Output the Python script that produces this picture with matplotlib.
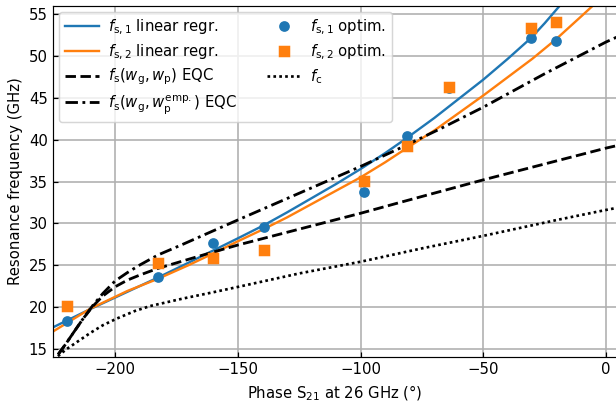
import matplotlib
matplotlib.use("Agg")
import matplotlib.pyplot as plt

# measured points (optimisation results)
phase_pts = [-219.5, -182.6, -160.1, -139.2, -98.5, -81.3, -64.0, -30.5, -20.5]
fs1_opt = [18.35, 23.6, 27.6, 29.6, 33.75, 40.4, 46.2, 52.2, 51.85]
fs2_opt = [20.1, 25.2, 25.9, 26.8, 35.05, 39.2, 46.3, 53.4, 54.1]

# regression curves
x_fs1 = [-225.3, -210, -195, -182.6, -170, -160, -150, -139.2, -130, -120, -110, -100, -90, -81.2, -70, -60, -50, -40, -30.5, -25, -18.7]
y_fs1 = [17.55, 19.75, 21.8, 23.5, 25.3, 26.75, 28.2, 29.8, 31.3, 33.0, 34.7, 36.5, 38.4, 40.2, 42.6, 44.9, 47.2, 49.7, 52.2, 53.95, 56.1]

x_fs2 = [-225.3, -210, -195, -182.6, -170, -160, -150, -139.2, -130, -120, -110, -100, -90, -81.2, -70, -60, -50, -40, -30, -20.5, -10, -5.2]
y_fs2 = [17.05, 19.8, 21.9, 23.35, 25.0, 26.4, 27.85, 29.35, 30.7, 32.3, 33.9, 35.5, 37.3, 39.0, 41.1, 43.2, 45.3, 47.5, 49.7, 52.0, 54.8, 56.1]

x_eqc = [-223.2, -220, -217, -213, -209, -205, -200, -195, -190, -182.6, -172.3, -165.4, -150, -125, -100, -83.9, -67.6, -50, -25, 0, 4.5]
y_eqc = [14.3, 15.6, 16.9, 18.6, 20.1, 21.3, 22.4, 23.2, 23.8, 24.6, 25.5, 26.1, 27.4, 29.3, 31.2, 32.5, 33.8, 35.2, 37.1, 39.0, 39.3]

x_emp = [-223.2, -220, -217, -213, -209, -205, -200, -195, -190, -182.6, -172.3, -165.4, -150, -125, -100, -83.9, -67.6, -50, -25, 0, 4.5]
y_emp = [14.3, 15.6, 16.9, 18.6, 20.2, 21.6, 23.1, 24.1, 25.0, 26.2, 27.5, 28.4, 30.4, 33.6, 36.8, 39.0, 41.3, 43.9, 47.9, 51.7, 52.3]

x_fc = [-223.3, -220, -215, -210, -205, -199.3, -192, -185.7, -172.3, -160, -149, -125, -100, -75, -50, -20, 0, 4.5]
y_fc = [14.1, 14.9, 15.9, 16.9, 17.8, 18.6, 19.5, 20.1, 21.0, 21.75, 22.45, 24.0, 25.4, 27.0, 28.5, 30.4, 31.6, 31.85]

xticks = [-200, -150, -100, -50, 0]
yticks = [15, 20, 25, 30, 35, 40, 45, 50, 55]

DPI = 107
fig = plt.figure(figsize=(616 / DPI, 403 / DPI), dpi=DPI)
ax = fig.add_axes([53/616, 46/403, 564.2/616, 351/403])

blue = '#1f77b4'
orange = '#ff7f0e'

h1, = ax.plot(x_fs1, y_fs1, color=blue, lw=1.6, label=r'$f_{\rm s,1}$ linear regr.')
h2, = ax.plot(x_fs2, y_fs2, color=orange, lw=1.6, label=r'$f_{\rm s,2}$ linear regr.')
h3, = ax.plot(x_eqc, y_eqc, color='black', lw=1.9, ls=(0, (3.7, 1.6)), label=r'$f_{\rm s}(w_{\rm g}, w_{\rm p})$ EQC')
h4, = ax.plot(x_emp, y_emp, color='black', lw=1.9, ls=(0, (4.4, 1.6, 1, 1.6)), label=r'$f_{\rm s}(w_{\rm g}, w_{\rm p}^{\rm emp.})$ EQC')
h5, = ax.plot(phase_pts, fs1_opt, 'o', color=blue, ms=6.2, label=r'$f_{\rm s,1}$ optim.')
h6, = ax.plot(phase_pts, fs2_opt, 's', color=orange, ms=6.2, label=r'$f_{\rm s,2}$ optim.')
h7, = ax.plot(x_fc, y_fc, color='black', lw=1.8, ls=(0, (1, 1.2)), label=r'$f_{\rm c}$')
h5.set_zorder(3)
h6.set_zorder(3.1)

ax.set_xlim(-225.3, 4.5)
ax.set_ylim(14, 56)
ax.set_xticks(xticks)
ax.set_yticks(yticks)
ax.tick_params(direction='in', labelsize=10)
ax.grid(True, color='#b0b0b0', lw=1.1)
ax.set_axisbelow(True)
ax.set_xlabel(r'Phase S$_{21}$ at 26 GHz (°)', fontsize=10)
ax.set_ylabel('Resonance frequency (GHz)', fontsize=10)

ax.legend(handles=[h1, h2, h3, h4, h5, h6, h7], ncol=2, loc='upper left', fontsize=10,
          framealpha=0.8, handlelength=2.3, handletextpad=0.6, columnspacing=2.0,
          labelspacing=0.35, borderaxespad=0.4)

fig.savefig('out.png', dpi=DPI)
